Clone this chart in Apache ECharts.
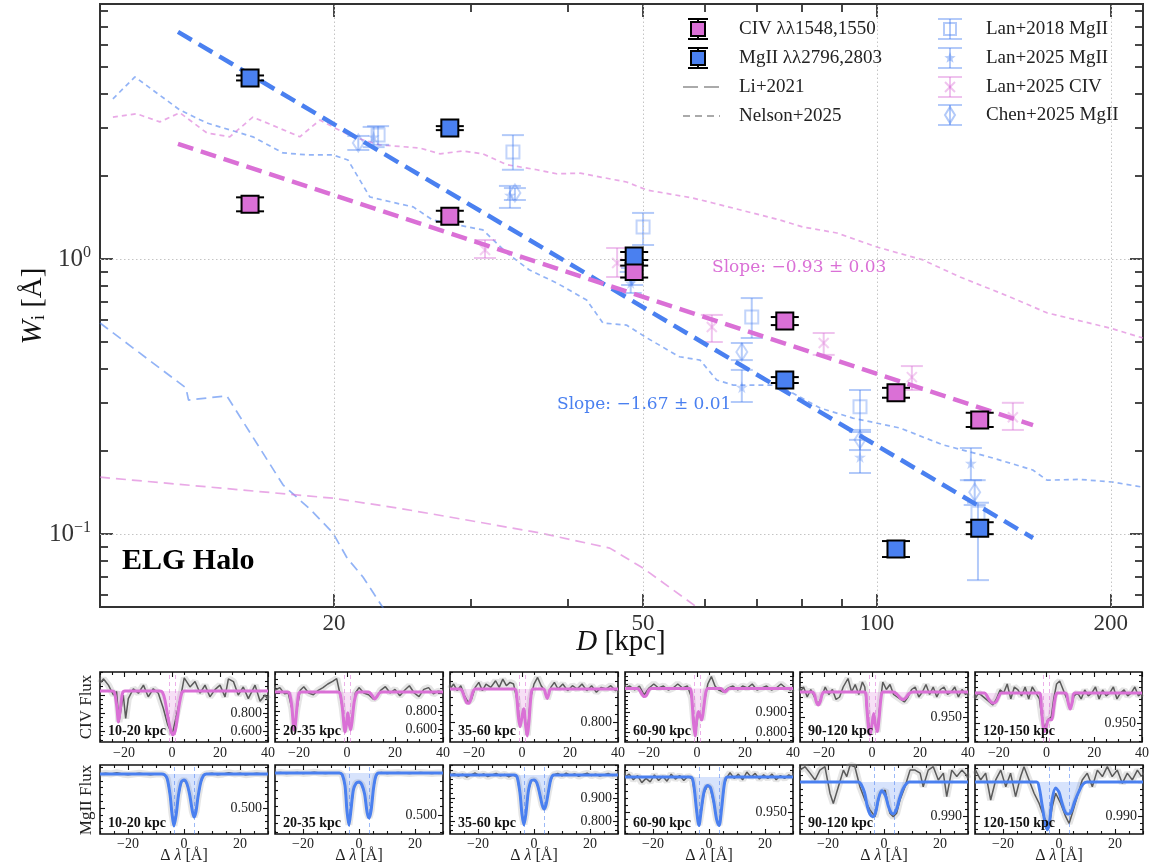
<!DOCTYPE html>
<html><head><meta charset="utf-8">
<script src="https://cdn.jsdelivr.net/npm/echarts@6/dist/echarts.min.js"></script>
<style>html,body{margin:0;padding:0;background:#fff}#c{width:1152px;height:867px}</style>
</head><body><div id="c"></div><script>
// ---------------- Main panel data ----------------
const dBins = [15.6, 28.2, 48.7, 76.1, 105.8, 135.6];
const civW  = [1.58, 1.43, 0.90, 0.595, 0.326, 0.260];
const civLo = [1.49, 1.366, 0.856, 0.575, 0.313, 0.245];
const civHi = [1.675, 1.497, 0.946, 0.615, 0.340, 0.276];
const mgW   = [4.55, 2.99, 1.025, 0.363, 0.0882, 0.105];
const mgLo  = [4.456, 2.94, 0.991, 0.354, 0.0825, 0.0999];
const mgHi  = [4.646, 3.04, 1.06, 0.372, 0.0943, 0.1104];

const fitD   = [12.6, 158.8];
const civFit = [2.62, 0.249];
const mgFit  = [6.69, 0.0967];

const lan18MgD  = [22.8, 34.0, 50.0, 69.0, 95.1, 134.9];
const lan18MgW  = [2.82, 2.45, 1.307, 0.615, 0.290, 0.119];
const lan18MgLo = [2.60, 2.11, 1.124, 0.516, 0.235, 0.068];
const lan18MgHi = [3.04, 2.82, 1.47, 0.721, 0.334, 0.130];
const lan25MgD  = [22.5, 33.7, 48.2, 67.0, 95.1, 132.1];
const lan25MgW  = [2.78, 1.708, 0.818, 0.342, 0.1905, 0.181];
const lan25MgLo = [2.55, 1.533, 0.752, 0.302, 0.1667, 0.157];
const lan25MgHi = [3.02, 1.843, 0.897, 0.395, 0.22, 0.2055];
const lan25CivD  = [31.3, 46.3, 61.3, 85.4, 110.9, 149.6];
const lan25CivW  = [1.078, 0.967, 0.566, 0.495, 0.372, 0.266];
const lan25CivLo = [1.008, 0.860, 0.499, 0.448, 0.334, 0.239];
const lan25CivHi = [1.172, 1.096, 0.626, 0.538, 0.408, 0.300];
const chen25MgD  = [21.5, 34.2, 48.4, 67.0, 95.1, 133.6];
const chen25MgW  = [2.64, 1.738, 0.867, 0.459, 0.22, 0.142];
const chen25MgLo = [2.49, 1.638, 0.804, 0.429, 0.202, 0.1275];
const chen25MgHi = [2.80, 1.81, 0.927, 0.495, 0.239, 0.157];

const nelsonMg = [[10.39,3.82],[11.09,4.59],[12.67,3.48],[13.73,3.12],[15.73,2.78],[17.2,2.43],[18.46,2.39],[19.94,2.39],[20.85,2.29],[22.25,1.68],[24.3,1.585],[25.3,1.546],[26.8,1.386],[31.1,1.275],[33.4,1.051],[35.7,0.912],[38.7,0.818],[42.3,0.709],[44.4,0.585],[47.6,0.575],[50.6,0.516],[55.7,0.441],[59.2,0.429],[62.2,0.363],[65.3,0.348],[75.0,0.348],[76.6,0.334],[84.5,0.287],[93.1,0.264],[107.0,0.243],[121.6,0.211],[141.0,0.189],[158.7,0.171],[165.5,0.157],[182.4,0.158],[201.2,0.1545],[220,0.148]];
const nelsonCiv = [[10.39,3.28],[11.15,3.37],[11.94,3.15],[12.67,3.40],[13.73,2.87],[14.69,2.78],[15.73,3.28],[18.08,2.78],[19.19,3.20],[19.94,3.02],[21.15,2.78],[22.9,2.60],[25.8,2.53],[27.4,2.41],[29.3,2.47],[31.1,2.41],[33.4,2.20],[36.5,2.11],[38.7,2.04],[41.5,2.05],[47.6,1.905],[50.6,1.78],[57.9,1.666],[61.5,1.598],[75.0,1.386],[80.3,1.307],[88.8,1.243],[100,1.105],[114.6,0.992],[127.9,0.860],[148.3,0.728],[165.5,0.637],[199.4,0.561],[220,0.516]];
const liMg = [[10,0.585],[12.9,0.340],[13.0,0.307],[14.56,0.318],[17.2,0.151],[18.7,0.122],[19.94,0.101],[20.8,0.0818],[21.8,0.0698],[23.1,0.0543],[24.5,0.040]];
const liCiv = [[10,0.161],[19.94,0.135],[24.3,0.124],[29.9,0.112],[36.8,0.101],[45.3,0.0889],[50,0.0752],[58.6,0.0543],[62.7,0.041]];

const xMajorTicks = [20, 50, 100, 200];
const xMinorTicks = [30, 40, 60, 70, 80, 90];
const yMajorTicks = [0.1, 1];
const yMinorTicks = [0.06,0.07,0.08,0.09,0.2,0.3,0.4,0.5,0.6,0.7,0.8,0.9,2,3,4,5,6,7,8];

// ---------------- Stacked spectra panels ----------------
const panelLabels = ['10-20 kpc','20-35 kpc','35-60 kpc','60-90 kpc','90-120 kpc','120-150 kpc'];
const civXRange = [-30, 40], mgXRange = [-30, 30];
const civXTicks = [-20, 0, 20, 40], mgXTicks = [-20, 0, 20];
const civCenters = [-1.3, 1.3], mgCenters = [-3.6, 3.6];
const civRange = [[0.478,1.256],[0.456,1.233],[0.679,1.103],[0.75,1.10],[0.90,1.04],[0.918,1.035]];
const civTicks = [[0.6,0.8,1.0],[0.6,0.8,1.0],[0.8,1.0],[0.8,0.9,1.0],[0.95,1.0],[0.95,1.0]];
const civTickLabels = [[0.6,0.8],[0.6,0.8],[0.8],[0.8,0.9],[0.95],[0.95]];
const mgRange = [[0.117,1.132],[0.274,1.095],[0.743,1.043],[0.919,1.017],[0.9847,1.005],[0.9847,1.005]];
const mgTicks = [[0.5,1.0],[0.5,1.0],[0.8,0.9,1.0],[0.95,1.0],[0.99,1.0],[0.99,1.0]];
const mgTickLabels = [[0.5],[0.5],[0.8,0.9],[0.95],[0.99],[0.99]];

const civModel1 = [[-30,1.044],[-25,1.044],[-24,1.03],[-23,0.87],[-22.3,0.70],[-21.5,0.85],[-20.6,1.02],[-19.6,1.044],[-5,1.044],[-4,1.03],[-3,0.95],[-2,0.80],[-1,0.66],[0.3,0.556],[1.3,0.60],[2.2,0.74],[3.2,0.92],[4.2,1.03],[5.2,1.044],[40,1.044]];
const civFlux1 = [[-30,1.13],[-28.6,1.18],[-26.5,1.11],[-24.4,1.0],[-23.1,1.04],[-22.1,0.70],[-20.3,1.0],[-19.3,0.74],[-18.2,0.96],[-16.1,1.07],[-14,1.02],[-11.9,1.11],[-9.9,0.98],[-7.8,1.07],[-5.7,1.02],[-3.6,0.85],[-1.8,0.67],[0.1,0.56],[1.9,0.78],[3.75,1.0],[5.1,1.19],[7.5,1.09],[9.6,1.15],[11.7,1.02],[13.75,1.11],[15.8,0.98],[17.9,1.06],[20,1.11],[22.1,0.98],[23.5,1.18],[25.6,1.15],[27.6,1.0],[29.7,1.09],[31.8,0.96],[34.6,1.11],[36.7,0.93],[38.75,1.0],[40,0.95]];
const civModel2 = [[-30,1.011],[-25,1.011],[-24,1.0],[-23,0.85],[-22.3,0.62],[-22,0.589],[-21.5,0.65],[-20.8,0.85],[-20,1.0],[-19,1.011],[-4,1.011],[-3,1.0],[-2,0.85],[-1.2,0.62],[-0.8,0.567],[-0.2,0.66],[0.35,0.78],[0.9,0.66],[1.5,0.589],[2.1,0.68],[3,0.9],[4,1.0],[5,1.011],[9,1.011],[10,0.99],[11,0.95],[11.5,0.933],[12.5,0.96],[13.5,1.0],[14.5,1.011],[40,1.011]];
const civFlux2 = [[-30,1.03],[-28,1.06],[-26,0.99],[-24.5,1.0],[-23,0.83],[-22,0.6],[-21,0.8],[-19.5,1.03],[-18,1.07],[-16,1.0],[-14,0.98],[-12,1.03],[-10,1.06],[-8,1.1],[-6,1.13],[-4.3,1.16],[-3,1.0],[-2,0.84],[-0.8,0.57],[0.3,0.78],[1.5,0.59],[2.5,0.8],[3.5,1.0],[5,1.06],[7,1.0],[9,0.98],[11,0.93],[12.5,0.96],[14,1.03],[16,1.07],[18,1.0],[20,1.04],[22,0.97],[24,1.03],[26,1.08],[28,1.0],[30,0.96],[32,1.04],[34,1.06],[36,0.99],[38,1.02],[40,1.01]];
const civModel3 = [[-30,1],[-26,1],[-25,0.99],[-24,0.95],[-23,0.915],[-22.4,0.913],[-21.5,0.93],[-20.5,0.98],[-19.5,1],[-3,1],[-2.2,0.95],[-1.5,0.83],[-0.8,0.772],[0,0.83],[0.7,0.88],[1.5,0.78],[2.2,0.715],[2.9,0.8],[3.7,0.95],[4.5,1],[9,1],[9.8,0.97],[10.5,0.943],[11.2,0.97],[12,1],[40,1]];
const civFlux3 = [[-30,1.0],[-28.5,1.03],[-27,0.99],[-25.5,1.02],[-24,0.96],[-22.5,0.92],[-21,0.94],[-19.5,1.01],[-18,1.04],[-16.5,0.99],[-15,1.03],[-13,1.01],[-11,1.05],[-9.5,1.01],[-8,1.06],[-6.5,1.02],[-5,1.04],[-3.5,1.03],[-2,0.93],[-0.8,0.77],[0.6,0.88],[2.2,0.72],[3.5,0.94],[5,1.03],[6.5,1.07],[8,1.02],[9.5,0.99],[10.5,0.94],[12,1.01],[13.5,1.04],[15,1.0],[17,1.03],[19,0.99],[21,1.02],[23,1.0],[25,1.03],[27,0.99],[29,1.02],[31,0.98],[33,1.01],[35,1.0],[37,1.02],[39,0.99],[40,1.0]];
const civModel4 = [[-30,1.018],[-25,1.018],[-24,1.01],[-23,0.99],[-22,0.977],[-21,0.985],[-20,1.01],[-19,1.018],[-3,1.018],[-2.2,0.97],[-1.5,0.85],[-0.8,0.78],[-0.1,0.86],[0.6,0.903],[1.3,0.88],[2,0.86],[2.8,0.92],[3.7,1.0],[4.5,1.018],[10,1.018],[11,1.005],[11.7,1.0],[12.5,1.008],[13.5,1.018],[40,1.018]];
const civFlux4 = [[-30,1.02],[-28,1.03],[-26,1.01],[-24,1.03],[-22,0.985],[-20,1.02],[-18,1.04],[-16,1.02],[-14,1.03],[-12,1.01],[-10,1.02],[-8,1.04],[-6,1.02],[-4,1.03],[-2.2,0.97],[-0.8,0.78],[0.6,0.9],[2,0.86],[3.2,0.96],[4.5,1.04],[6,1.077],[7.5,1.03],[9,1.01],[11,1.0],[13,1.02],[15,1.03],[17,1.01],[19,1.03],[21,1.02],[23,1.04],[25,1.01],[27,1.02],[29,1.03],[31,1.01],[33,1.02],[35,1.04],[37,1.02],[39,1.01],[40,1.02]];
const civModel5 = [[-30,1],[-25,1],[-24,0.995],[-23.2,0.98],[-22.4,0.974],[-21.6,0.98],[-20.8,0.995],[-20,1],[-3,1],[-2.2,0.97],[-1.5,0.93],[-0.8,0.914],[0,0.935],[0.7,0.957],[1.4,0.935],[2.2,0.921],[3,0.95],[3.8,0.99],[4.5,1],[9,1],[10.5,0.995],[12,0.987],[13,0.985],[14,0.988],[15.5,0.997],[17,1],[40,1]];
const civFlux5 = [[-30,1.0],[-28.5,1.01],[-27,0.99],[-25.5,1.005],[-24,0.99],[-22.5,0.975],[-21,0.99],[-19.5,1.01],[-18,0.995],[-16.5,1.005],[-15,0.985],[-13.5,0.99],[-12,1.01],[-10,1.027],[-8.5,1.0],[-7,1.015],[-5.5,0.995],[-4,1.02],[-3,1.01],[-2,0.96],[-0.8,0.915],[0.5,0.95],[2.2,0.92],[3.2,0.97],[4.5,1.02],[6,1.005],[7.5,1.015],[9,0.995],[10.5,0.99],[12,0.985],[13.5,0.98],[15,0.99],[16.5,1.005],[18,1.01],[19.5,0.99],[21,1.0],[22.5,1.015],[24,0.995],[25.5,1.01],[27,0.99],[28.5,1.005],[30,1.01],[31.5,0.995],[33,1.0],[34.5,1.01],[36,0.99],[37.5,1.005],[39,0.995],[40,1.0]];
const civModel6 = [[-30,1],[-26,1],[-25,0.995],[-24,0.988],[-23,0.984],[-22.1,0.983],[-21,0.986],[-20,0.994],[-19,1],[-3,1],[-2.2,0.975],[-1.5,0.945],[-0.8,0.9355],[0,0.945],[0.8,0.955],[1.6,0.955],[2.2,0.955],[3,0.975],[3.8,0.995],[4.5,1],[8,1],[9,0.985],[9.9,0.973],[10.8,0.985],[11.8,1],[40,1]];
const civFlux6 = [[-30,0.99],[-28.5,1.0],[-27,0.995],[-25.5,0.99],[-24,0.985],[-22.5,0.98],[-21,0.99],[-19.5,1.005],[-18,1.0],[-16.5,1.015],[-15,0.99],[-13.5,1.01],[-12,1.005],[-10.5,0.995],[-9,1.01],[-7.5,0.99],[-6,1.01],[-4.5,1.0],[-3,0.99],[-2,0.96],[-0.8,0.94],[0.5,0.955],[2,0.96],[3,0.99],[4.2,1.015],[5.5,1.02],[7,1.005],[8.5,0.99],[10,0.973],[11.5,0.995],[13,1.0],[14.5,0.99],[16,1.005],[17.5,0.995],[19,1.0],[20.5,1.01],[22,0.99],[23.5,1.005],[25,0.995],[26.5,1.0],[28,1.01],[29.5,0.99],[31,1.0],[32.5,1.005],[34,0.995],[35.5,1.0],[37,1.01],[38.5,0.995],[40,1.0]];

const mgModel1 = [[-30,1],[-8,1],[-7,0.99],[-6,0.93],[-5,0.70],[-4.3,0.42],[-3.6,0.235],[-2.8,0.40],[-2,0.68],[-1,0.88],[0,0.91],[1,0.86],[2,0.70],[3,0.45],[3.6,0.367],[4.3,0.45],[5,0.66],[6,0.88],[7,0.98],[8,1],[30,1]];
const mgFlux1 = [[-30,1.0],[-28,1.01],[-26,1.0],[-24,1.02],[-22,1.0],[-20,0.99],[-18,1.0],[-16,1.01],[-14,1.0],[-12,0.99],[-10,1.0],[-8,1.0],[-7,0.99],[-6,0.93],[-5,0.70],[-4.3,0.42],[-3.6,0.24],[-2.8,0.40],[-2,0.68],[-1,0.88],[0,0.91],[1,0.86],[2,0.70],[3,0.45],[3.6,0.37],[4.3,0.45],[5,0.66],[6,0.88],[7,0.98],[8,1.0],[10,1.01],[12,0.99],[14,1.0],[16,1.02],[18,1.0],[20,1.01],[22,0.99],[24,1.0],[26,1.01],[28,1.0],[30,1.0]];
const mgModel2 = [[-30,1],[-7,1],[-6,0.98],[-5,0.85],[-4.3,0.55],[-3.6,0.381],[-2.9,0.55],[-2,0.80],[-1,0.88],[0,0.893],[1,0.86],[2,0.75],[2.9,0.53],[3.6,0.464],[4.3,0.55],[5.2,0.82],[6,0.96],[7,1],[30,1]];
const mgFlux2 = [[-30,1.0],[-28,1.005],[-26,0.995],[-24,1.0],[-22,1.005],[-20,0.995],[-18,1.0],[-16,1.01],[-14,1.0],[-12,0.995],[-10,1.0],[-8,1.0],[-7,1.0],[-6,0.98],[-5,0.85],[-4.3,0.55],[-3.6,0.385],[-2.9,0.55],[-2,0.80],[-1,0.88],[0,0.89],[1,0.86],[2,0.75],[2.9,0.53],[3.6,0.47],[4.3,0.55],[5.2,0.82],[6,0.96],[7,1.0],[8,1.005],[10,0.995],[12,1.0],[14,1.005],[16,1.0],[18,0.995],[20,1.0],[22,1.005],[24,1.0],[26,0.995],[28,1.0],[30,1.0]];
const mgModel3 = [[-30,1],[-7,1],[-6,0.99],[-5,0.92],[-4.3,0.83],[-3.6,0.783],[-2.9,0.83],[-2,0.93],[-1,0.975],[0,0.978],[1,0.965],[2,0.92],[2.9,0.87],[3.6,0.852],[4.3,0.87],[5.2,0.93],[6,0.98],[7,1],[30,1]];
const mgFlux3 = [[-30,1.0],[-28.5,1.005],[-27,0.995],[-25.5,1.003],[-24,0.99],[-22.5,1.0],[-21,1.008],[-19.5,0.997],[-18,1.004],[-16.5,0.993],[-15,1.0],[-13.5,1.006],[-12,0.996],[-10.5,1.002],[-9,0.992],[-7.5,1.0],[-6,0.99],[-5,0.92],[-4.3,0.83],[-3.6,0.785],[-2.9,0.83],[-2,0.93],[-1,0.975],[0,0.978],[1,0.965],[2,0.92],[2.9,0.87],[3.6,0.852],[4.3,0.87],[5.2,0.93],[6,0.98],[7,1.0],[8.5,1.006],[10,0.996],[11.5,1.008],[13,0.998],[14.5,1.004],[16,0.994],[17.5,1.002],[19,1.007],[20.5,0.997],[22,1.003],[23.5,0.995],[25,1.0],[26.5,1.006],[28,0.997],[29.5,1.002],[30,1.0]];
const mgModel4 = [[-30,1],[-6.5,1],[-5.5,0.99],[-4.5,0.955],[-3.6,0.931],[-2.7,0.955],[-1.7,0.98],[-0.5,0.988],[0.5,0.985],[1.7,0.965],[2.7,0.94],[3.6,0.931],[4.5,0.955],[5.5,0.99],[6.5,1],[30,1]];
const mgFlux4 = [[-30,1.0],[-28.5,1.004],[-27,0.996],[-25.5,1.002],[-24,0.992],[-22.5,0.998],[-21,0.993],[-19.5,1.003],[-18,0.995],[-16.5,1.001],[-15,0.994],[-13.5,1.004],[-12,0.997],[-10.5,1.002],[-9,0.995],[-7.5,1.001],[-6,0.997],[-5,0.975],[-4.3,0.945],[-3.6,0.932],[-2.8,0.95],[-1.8,0.977],[-0.5,0.988],[0.5,0.984],[1.7,0.963],[2.7,0.94],[3.6,0.932],[4.5,0.955],[5.5,0.99],[6.5,1.0],[7.5,1.006],[9,0.998],[10.5,1.004],[12,0.996],[13.5,1.007],[15,1.0],[16.5,1.005],[18,0.997],[19.5,1.003],[21,0.998],[22.5,1.004],[24,0.996],[25.5,1.002],[27,0.998],[28.5,1.003],[30,1.0]];
const mgModel5 = [[-30,1],[-9,1],[-8,0.999],[-7,0.997],[-6,0.993],[-5,0.9905],[-4,0.9898],[-3,0.991],[-2,0.995],[-0.8,0.9974],[0.5,0.996],[1.5,0.993],[2.5,0.991],[3.3,0.9906],[4.5,0.992],[5.5,0.995],[6.8,0.998],[8,0.9995],[9,1],[30,1]];
const mgFlux5 = [[-30,1.0035],[-28.2,1.0045],[-26.4,1.0026],[-24.6,1.0006],[-22.9,1.0035],[-21.1,1.0045],[-19.3,0.9967],[-18.1,0.9937],[-16.3,0.9986],[-14.5,1.0035],[-13.3,1.0016],[-12.1,1.005],[-10.4,1.0045],[-8.6,0.9986],[-6.8,0.9947],[-5,0.9918],[-3.2,0.9898],[-1.4,0.9967],[0.4,0.9976],[2.1,0.9908],[3.3,0.9898],[4.5,0.9908],[5.7,0.9947],[7.5,0.9986],[9.3,1.0035],[11.1,1.0035],[12.9,1.0026],[14.0,0.9986],[15.8,1.0035],[17.6,1.0045],[19.4,1.0006],[21.2,1.0026],[22.4,0.9957],[24.2,1.0035],[26.0,1.0016],[27.8,1.0035],[29.5,1.002],[30,1.001]];
const mgModel6 = [[-30,1],[-8,1],[-7,0.998],[-6,0.993],[-5,0.988],[-4.2,0.9859],[-3.4,0.988],[-2.4,0.995],[-1.2,0.9982],[0,0.997],[1,0.994],[2,0.9915],[3,0.9906],[3.6,0.9906],[4.5,0.9915],[5.5,0.994],[7,0.997],[8.5,0.9993],[10,1],[30,1]];
const mgFlux6 = [[-29.8,1.0035],[-28.0,1.0006],[-26.2,1.0026],[-24.4,0.9947],[-22.6,1.0006],[-20.8,1.0035],[-19.0,0.9986],[-17.3,1.0026],[-15.5,0.9957],[-13.7,1.0016],[-12.5,1.0045],[-10.7,1.0006],[-8.9,0.9967],[-7.1,0.9937],[-5.4,0.9898],[-3.6,0.9869],[-2.4,0.9928],[-1.2,0.9967],[0.6,0.9937],[2.4,0.9898],[3.6,0.9878],[4.75,0.9908],[6.5,0.9957],[8.3,1.0006],[10.1,1.0026],[11.9,0.9986],[13.7,1.0035],[15.5,1.0016],[17.25,1.0045],[19.0,1.0016],[20.8,1.0035],[22.6,0.9996],[24.4,1.0026],[26.2,1.0006],[28.0,1.0035],[29.5,1.0016]];

const civModels = [civModel1, civModel2, civModel3, civModel4, civModel5, civModel6];
const civFluxes = [civFlux1, civFlux2, civFlux3, civFlux4, civFlux5, civFlux6];
const mgModels = [mgModel1, mgModel2, mgModel3, mgModel4, mgModel5, mgModel6];
const mgFluxes = [mgFlux1, mgFlux2, mgFlux3, mgFlux4, mgFlux5, mgFlux6];

// ---------------- styling ----------------
const SERIF = '"Liberation Serif", "Times New Roman", serif';
const DSERIF = '"DejaVu Serif", serif';
const CIV_C = '#DA70D6';
const MG_C = '#4A80F0';
function rgba(hex, a) {
  const n = parseInt(hex.slice(1), 16);
  return 'rgba(' + ((n >> 16) & 255) + ',' + ((n >> 8) & 255) + ',' + (n & 255) + ',' + a + ')';
}
const minus = v => (v < 0 ? '\u2212' + Math.abs(v) : String(v));
const NOLINE = {show: false, onZero: false};

const grids = [], xAxes = [], yAxes = [], series = [], gfx = [];

// ---------------- main grid & axes ----------------
grids.push({left: 100, top: 4, width: 1043, height: 603, show: true, borderColor: '#333', borderWidth: 2, backgroundColor: 'rgba(0,0,0,0)'});
const TK = {color: '#333', width: 1.8};
const mainXBase = {type: 'log', logBase: 10, min: 10, max: 220, gridIndex: 0, axisLine: NOLINE, splitLine: {show: false}, minorTick: {show: false}};
xAxes.push(Object.assign({}, mainXBase, {position: 'bottom',
  axisTick: {show: true, inside: true, length: 13, customValues: xMajorTicks, lineStyle: TK},
  axisLabel: {show: true, customValues: xMajorTicks, fontFamily: SERIF, fontSize: 23, color: '#333', margin: 5, formatter: v => String(Math.round(v))}}));
xAxes.push(Object.assign({}, mainXBase, {position: 'top', axisTick: {show: true, inside: true, length: 13, customValues: xMajorTicks, lineStyle: TK}, axisLabel: {show: false}}));
xAxes.push(Object.assign({}, mainXBase, {position: 'bottom', axisTick: {show: true, inside: true, length: 8, customValues: xMinorTicks, lineStyle: TK}, axisLabel: {show: false}}));
xAxes.push(Object.assign({}, mainXBase, {position: 'top', axisTick: {show: true, inside: true, length: 8, customValues: xMinorTicks, lineStyle: TK}, axisLabel: {show: false}}));
const mainYBase = {type: 'log', logBase: 10, min: 0.0543, max: 8.45, gridIndex: 0, axisLine: NOLINE, splitLine: {show: false}, minorTick: {show: false}};
yAxes.push(Object.assign({}, mainYBase, {position: 'left',
  axisTick: {show: true, inside: true, length: 13, customValues: yMajorTicks, lineStyle: TK},
  axisLabel: {show: true, customValues: yMajorTicks, margin: 9, formatter: v => {
      const e = Math.round(Math.log10(v));
      return '{b|10}{s|' + minus(e) + '}';
    },
    rich: {b: {fontFamily: SERIF, fontSize: 25, color: '#333', lineHeight: 28}, s: {fontFamily: SERIF, fontSize: 16, color: '#333', verticalAlign: 'top', lineHeight: 16}}}}));
yAxes.push(Object.assign({}, mainYBase, {position: 'right', axisTick: {show: true, inside: true, length: 13, customValues: yMajorTicks, lineStyle: TK}, axisLabel: {show: false}}));
yAxes.push(Object.assign({}, mainYBase, {position: 'left', axisTick: {show: true, inside: true, length: 8, customValues: yMinorTicks, lineStyle: TK}, axisLabel: {show: false}}));
yAxes.push(Object.assign({}, mainYBase, {position: 'right', axisTick: {show: true, inside: true, length: 8, customValues: yMinorTicks, lineStyle: TK}, axisLabel: {show: false}}));

// reference curves
function refLine(data, color, dash, z, extra) {
  return Object.assign({type: 'line', xAxisIndex: 0, yAxisIndex: 0, data: data, symbol: 'none', silent: true, z: z,
    lineStyle: {color: color, width: 1.7, type: dash}}, extra || {});
}
series.push(refLine(nelsonMg, rgba(MG_C, 0.6), [5, 4], 2, {markLine: {silent: true, symbol: 'none', label: {show: false}, animation: false,
  lineStyle: {color: '#c4c4c4', type: [1.5, 2.5], width: 1},
  data: xMajorTicks.map(v => ({xAxis: v})).concat(yMajorTicks.map(v => ({yAxis: v})))}}));
series.push(refLine(nelsonCiv, rgba(CIV_C, 0.6), [5, 4], 2));
series.push(refLine(liMg, rgba(MG_C, 0.6), [10, 6], 2));
series.push(refLine(liCiv, rgba(CIV_C, 0.6), [10, 6], 2));

// error bars (with optional filled square marker drawn on top)
function errSeries(xs, ys, lo, hi, color, lw, cap, z, square) {
  return {type: 'custom', xAxisIndex: 0, yAxisIndex: 0, silent: true, z: z,
    data: xs.map((x, i) => [x, ys[i], lo[i], hi[i]]),
    renderItem: (p, api) => {
      const c = api.coord([api.value(0), api.value(1)]);
      const a = api.coord([api.value(0), api.value(2)]);
      const b = api.coord([api.value(0), api.value(3)]);
      const st = {stroke: color, lineWidth: lw};
      const ch = [
        {type: 'line', shape: {x1: a[0], y1: a[1], x2: b[0], y2: b[1]}, style: st},
        {type: 'line', shape: {x1: a[0] - cap, y1: a[1], x2: a[0] + cap, y2: a[1]}, style: st},
        {type: 'line', shape: {x1: b[0] - cap, y1: b[1], x2: b[0] + cap, y2: b[1]}, style: st}];
      if (square) {
        ch.push({type: 'rect', shape: {x: c[0] - 8.5, y: c[1] - 8.5, width: 17, height: 17}, style: {fill: square, stroke: '#000', lineWidth: 2}});
      }
      return {type: 'group', children: ch};
    }};
}
const STAR = 'path://M50,0L61,35L98,35L68,57L79,91L50,70L21,91L32,57L2,35L39,35Z';
const XMARK = 'path://M0,0L10,10M10,0L0,10';
const LB = rgba(MG_C, 0.42), LP = rgba(CIV_C, 0.42);
series.push(errSeries(lan18MgD, lan18MgW, lan18MgLo, lan18MgHi, LB, 2, 11, 3));
series.push(errSeries(lan25MgD, lan25MgW, lan25MgLo, lan25MgHi, LB, 2, 11, 3));
series.push(errSeries(lan25CivD, lan25CivW, lan25CivLo, lan25CivHi, LP, 2, 11, 3));
series.push(errSeries(chen25MgD, chen25MgW, chen25MgLo, chen25MgHi, LB, 2, 11, 3));
function pts(xs, ys) { return xs.map((x, i) => [x, ys[i]]); }
series.push({type: 'scatter', xAxisIndex: 0, yAxisIndex: 0, silent: true, z: 4, data: pts(lan18MgD, lan18MgW), symbol: 'rect', symbolSize: 13,
  itemStyle: {color: 'rgba(255,255,255,0)', borderColor: LB, borderWidth: 2}});
series.push({type: 'scatter', xAxisIndex: 0, yAxisIndex: 0, silent: true, z: 4, data: pts(lan25MgD, lan25MgW), symbol: STAR, symbolSize: 12,
  itemStyle: {color: LB}});
series.push({type: 'scatter', xAxisIndex: 0, yAxisIndex: 0, silent: true, z: 4, data: pts(lan25CivD, lan25CivW), symbol: XMARK, symbolSize: 10,
  itemStyle: {color: 'rgba(0,0,0,0)', borderColor: LP, borderWidth: 2}});
series.push({type: 'scatter', xAxisIndex: 0, yAxisIndex: 0, silent: true, z: 4, data: pts(chen25MgD, chen25MgW), symbol: 'diamond', symbolSize: [11, 17],
  itemStyle: {color: 'rgba(255,255,255,0)', borderColor: LB, borderWidth: 2}});

// fits
series.push({type: 'line', xAxisIndex: 0, yAxisIndex: 0, silent: true, z: 5, data: pts(fitD, mgFit), symbol: 'none', lineStyle: {color: MG_C, width: 4.5, type: [16, 8]}});
series.push({type: 'line', xAxisIndex: 0, yAxisIndex: 0, silent: true, z: 5, data: pts(fitD, civFit), symbol: 'none', lineStyle: {color: CIV_C, width: 4.5, type: [16, 8]}});

// measured points
series.push(errSeries(dBins, civW, civLo, civHi, '#000', 2, 14, 6, CIV_C));
series.push(errSeries(dBins, mgW, mgLo, mgHi, '#000', 2, 14, 6, MG_C));

// ---------------- panels ----------------
function minorVals(lo, hi, step, n) {
  const s = step / n, out = [];
  for (let k = Math.ceil(lo / s - 1e-9); k * s <= hi + 1e-9; k++) {
    if (k % n !== 0) out.push(+(k * s).toFixed(6));
  }
  return out;
}
const panelLeft = [100, 275, 450, 625, 800, 975];
const rowTop = [672, 765], rowH = [70, 69];
const PTK = {color: '#111', width: 1.1};

function addPanel(row, col, xr, xTicks, yr, yTicks, yLabs, model, flux, color, centers) {
  grids.push({left: panelLeft[col], top: rowTop[row], width: 168, height: rowH[row], show: true, borderColor: '#111', borderWidth: 1.6, backgroundColor: 'rgba(0,0,0,0)'});
  const gi = grids.length - 1;
  const xMin = minorVals(xr[0], xr[1], 20, 4);
  const yStep = +(yTicks[1] - yTicks[0]).toFixed(6);
  const yMin = minorVals(yr[0], yr[1], yStep, Math.abs(yStep - 0.2) < 1e-6 ? 4 : 5);
  const xb = {type: 'value', gridIndex: gi, min: xr[0], max: xr[1], axisLine: NOLINE, splitLine: {show: false}};
  const xi = xAxes.length;
  xAxes.push(Object.assign({}, xb, {position: 'bottom', axisTick: {inside: true, length: 5, customValues: xTicks, lineStyle: PTK},
    axisLabel: {customValues: xTicks, formatter: minus, fontFamily: SERIF, fontSize: 14, color: '#222', margin: row === 0 ? 4 : 3}}));
  xAxes.push(Object.assign({}, xb, {position: 'top', axisTick: {inside: true, length: 5, customValues: xTicks, lineStyle: PTK}, axisLabel: {show: false}}));
  xAxes.push(Object.assign({}, xb, {position: 'bottom', axisTick: {inside: true, length: 3, customValues: xMin, lineStyle: PTK}, axisLabel: {show: false}}));
  xAxes.push(Object.assign({}, xb, {position: 'top', axisTick: {inside: true, length: 3, customValues: xMin, lineStyle: PTK}, axisLabel: {show: false}}));
  const yb = {type: 'value', gridIndex: gi, min: yr[0], max: yr[1], axisLine: NOLINE, splitLine: {show: false}};
  const yi = yAxes.length;
  yAxes.push(Object.assign({}, yb, {position: 'left', axisTick: {inside: true, length: 5, customValues: yTicks, lineStyle: PTK}, axisLabel: {show: false}}));
  yAxes.push(Object.assign({}, yb, {position: 'right', axisTick: {inside: true, length: 5, customValues: yTicks, lineStyle: PTK},
    axisLabel: {inside: true, customValues: yLabs, formatter: v => v.toFixed(3), fontFamily: SERIF, fontSize: 14, color: '#222', margin: 6}}));
  yAxes.push(Object.assign({}, yb, {position: 'left', axisTick: {inside: true, length: 3, customValues: yMin, lineStyle: PTK}, axisLabel: {show: false}}));
  yAxes.push(Object.assign({}, yb, {position: 'right', axisTick: {inside: true, length: 3, customValues: yMin, lineStyle: PTK}, axisLabel: {show: false}}));

  series.push({type: 'line', xAxisIndex: xi, yAxisIndex: yi, data: flux, symbol: 'none', silent: true, z: 1,
    lineStyle: {color: 'rgba(150,150,150,0.25)', width: 7}});
  const base = model[0][1];
  series.push({type: 'custom', xAxisIndex: xi, yAxisIndex: yi, silent: true, z: 2, data: model,
    renderItem: (p, api) => {
      if (p.dataIndex !== 0) return null;
      const ps = model.map(d => api.coord(d));
      const b0 = api.coord([model[0][0], base]);
      const b1 = api.coord([model[model.length - 1][0], base]);
      return {type: 'polygon', shape: {points: [b0].concat(ps, [b1])}, style: {fill: rgba(color, 0.22)}};
    }});
  series.push({type: 'line', xAxisIndex: xi, yAxisIndex: yi, data: flux, symbol: 'none', silent: true, z: 3,
    lineStyle: {color: '#5a5a5a', width: 1.5}});
  series.push({type: 'line', xAxisIndex: xi, yAxisIndex: yi, data: model, symbol: 'none', silent: true, z: 4, smooth: 0.3,
    lineStyle: {color: color, width: 3},
    markLine: {silent: true, symbol: 'none', label: {show: false}, animation: false,
      lineStyle: {color: rgba(color, 0.55), type: [4, 3], width: 1}, data: centers.map(c => ({xAxis: c}))}});
  gfx.push({type: 'text', x: panelLeft[col] + 8, y: rowTop[row] + rowH[row] - 11, z: 50,
    style: {text: panelLabels[col], font: 'bold 14px ' + SERIF, fill: '#111', align: 'left', verticalAlign: 'middle'}});
  if (row === 1) {
    gfx.push({type: 'text', x: panelLeft[col] + 84, y: 856, z: 50,
      style: {text: '{n|\u0394 }{l|\u03bb}{n| [\u00c5]}', align: 'center', verticalAlign: 'middle',
        rich: {n: {fontFamily: SERIF, fontSize: 16, fill: '#222'}, l: {fontFamily: SERIF, fontSize: 16, fontStyle: 'italic', fill: '#222'}}}});
  }
}
for (let c = 0; c < 6; c++) {
  addPanel(0, c, civXRange, civXTicks, civRange[c], civTicks[c], civTickLabels[c], civModels[c], civFluxes[c], CIV_C, civCenters);
  addPanel(1, c, mgXRange, mgXTicks, mgRange[c], mgTicks[c], mgTickLabels[c], mgModels[c], mgFluxes[c], MG_C, mgCenters);
}

// ---------------- texts & legend ----------------
gfx.push({type: 'text', x: 33, y: 306, rotation: Math.PI / 2, z: 50,
  style: {text: '{w|W}{i|i}{n| [\u00c5]}', align: 'center', verticalAlign: 'middle',
    rich: {w: {fontFamily: SERIF, fontSize: 29, fontStyle: 'italic', fill: '#111', lineHeight: 32},
           i: {fontFamily: SERIF, fontSize: 19, fill: '#111', verticalAlign: 'bottom', lineHeight: 19},
           n: {fontFamily: SERIF, fontSize: 29, fill: '#111', lineHeight: 32}}}});
gfx.push({type: 'text', x: 621, y: 642, z: 50,
  style: {text: '{d|D}{n| [kpc]}', align: 'center', verticalAlign: 'middle',
    rich: {d: {fontFamily: SERIF, fontSize: 29, fontStyle: 'italic', fill: '#111'}, n: {fontFamily: SERIF, fontSize: 29, fill: '#111'}}}});
gfx.push({type: 'text', x: 122, y: 561, z: 50, style: {text: 'ELG Halo', font: 'bold 30px ' + SERIF, fill: '#000', align: 'left', verticalAlign: 'middle'}});
gfx.push({type: 'text', x: 712, y: 268, z: 50, style: {text: 'Slope: \u22120.93 \u00b1 0.03', font: '17px ' + DSERIF, fill: CIV_C, align: 'left', verticalAlign: 'middle'}});
gfx.push({type: 'text', x: 557, y: 405, z: 50, style: {text: 'Slope: \u22121.67 \u00b1 0.01', font: '17px ' + DSERIF, fill: MG_C, align: 'left', verticalAlign: 'middle'}});
gfx.push({type: 'text', x: 87, y: 707, rotation: Math.PI / 2, z: 50, style: {text: 'CIV Flux', font: '17px ' + SERIF, fill: '#222', align: 'center', verticalAlign: 'middle'}});
gfx.push({type: 'text', x: 87, y: 800, rotation: Math.PI / 2, z: 50, style: {text: 'MgII Flux', font: '17px ' + SERIF, fill: '#222', align: 'center', verticalAlign: 'middle'}});

function errGlyph(cx, cy, hh, cap, color, lw) {
  const st = {stroke: color, lineWidth: lw};
  return [
    {type: 'line', z: 60, shape: {x1: cx, y1: cy - hh, x2: cx, y2: cy + hh}, style: st},
    {type: 'line', z: 60, shape: {x1: cx - cap, y1: cy - hh, x2: cx + cap, y2: cy - hh}, style: st},
    {type: 'line', z: 60, shape: {x1: cx - cap, y1: cy + hh, x2: cx + cap, y2: cy + hh}, style: st}];
}
function starPts(cx, cy, r) {
  const out = [];
  for (let k = 0; k < 10; k++) {
    const rr = k % 2 === 0 ? r : r * 0.42;
    const a = -Math.PI / 2 + k * Math.PI / 5;
    out.push([cx + rr * Math.cos(a), cy + rr * Math.sin(a)]);
  }
  return out;
}
const legTextL = [['CIV \u03bb\u03bb1548,1550', 29], ['MgII \u03bb\u03bb2796,2803', 58], ['Li+2021', 87], ['Nelson+2025', 116]];
const legTextR = [['Lan+2018 MgII', 29], ['Lan+2025 MgII', 58], ['Lan+2025 CIV', 87], ['Chen+2025 MgII', 115]];
legTextL.forEach(t => gfx.push({type: 'text', x: 739, y: t[1], z: 60, style: {text: t[0], font: '19px ' + SERIF, fill: '#222', align: 'left', verticalAlign: 'middle'}}));
legTextR.forEach(t => gfx.push({type: 'text', x: 986, y: t[1], z: 60, style: {text: t[0], font: '19px ' + SERIF, fill: '#222', align: 'left', verticalAlign: 'middle'}}));
[[29, CIV_C], [58, MG_C]].forEach(r => {
  errGlyph(698, r[0], 10, 10, '#000', 2).forEach(e => gfx.push(e));
  gfx.push({type: 'rect', z: 61, shape: {x: 691, y: r[0] - 7, width: 14, height: 14}, style: {fill: r[1], stroke: '#000', lineWidth: 2}});
});
gfx.push({type: 'line', z: 60, shape: {x1: 683, y1: 87, x2: 720, y2: 87}, style: {stroke: '#aaa', lineWidth: 2, lineDash: [15, 6]}});
gfx.push({type: 'line', z: 60, shape: {x1: 683, y1: 116, x2: 720, y2: 116}, style: {stroke: '#aaa', lineWidth: 2, lineDash: [7, 5]}});
errGlyph(950, 29, 10, 12, LB, 2).forEach(e => gfx.push(e));
gfx.push({type: 'rect', z: 61, shape: {x: 944, y: 23, width: 12, height: 12}, style: {fill: 'rgba(255,255,255,0)', stroke: LB, lineWidth: 2}});
errGlyph(950, 58, 10, 12, LB, 2).forEach(e => gfx.push(e));
gfx.push({type: 'polygon', z: 61, shape: {points: starPts(950, 58, 6)}, style: {fill: LB}});
errGlyph(950, 87, 10, 12, LP, 2).forEach(e => gfx.push(e));
gfx.push({type: 'line', z: 61, shape: {x1: 945, y1: 82, x2: 955, y2: 92}, style: {stroke: LP, lineWidth: 2}});
gfx.push({type: 'line', z: 61, shape: {x1: 955, y1: 82, x2: 945, y2: 92}, style: {stroke: LP, lineWidth: 2}});
errGlyph(950, 115, 10, 12, LB, 2).forEach(e => gfx.push(e));
gfx.push({type: 'polygon', z: 61, shape: {points: [[950, 107], [955, 115], [950, 123], [945, 115]]}, style: {fill: 'rgba(255,255,255,0)', stroke: LB, lineWidth: 2}});

const chart = echarts.init(document.getElementById('c'), null, {renderer: 'canvas', width: 1152, height: 867});
chart.setOption({animation: false, backgroundColor: '#ffffff', grid: grids, xAxis: xAxes, yAxis: yAxes, series: series, graphic: {elements: gfx}});
</script></body></html>
